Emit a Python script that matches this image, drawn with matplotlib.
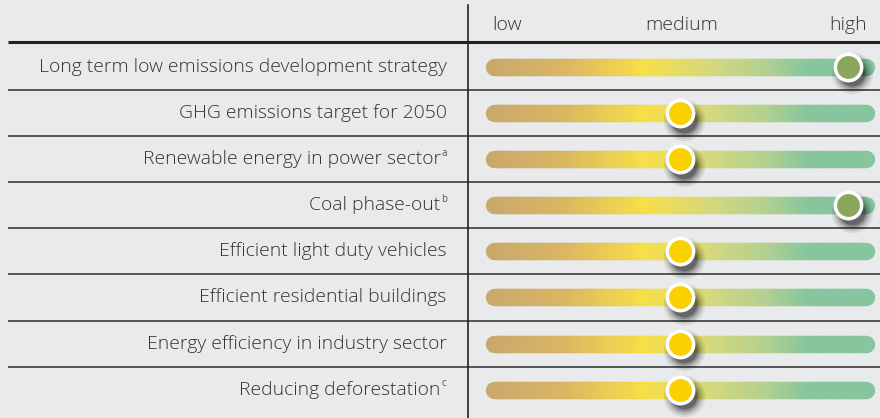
import numpy as np
import matplotlib.pyplot as plt
from matplotlib.collections import LineCollection
from matplotlib.colors import LinearSegmentedColormap

categories = ["Long term low emissions development strategy",
              "GHG emissions target for 2050",
              "Renewable energy in power sector",
              "Coal phase-out",
              "Efficient light duty vehicles",
              "Efficient residential buildings",
              "Energy efficiency in industry sector",
              "Reducing deforestation"]
notes = ["", "", "a", "b", "", "", "", "c"]
levels = [2, 1, 1, 2, 1, 1, 1, 1]          # 0 = low, 1 = medium, 2 = high
level_names = ["low", "medium", "high"]
level_colors = {1: "#F9D100", 2: "#8AA65C"}

bg = "#E9EAEC"
txt = "#333333"
grad = LinearSegmentedColormap.from_list(
    "grad", [(0.0, "#C9A86C"), (0.2, "#DAB663"), (0.42, "#F8DF48"),
             (0.6, "#D5D87E"), (0.75, "#B2D090"), (0.87, "#86C59E"), (1.0, "#86C59E")])

fig = plt.figure(figsize=(8.8, 4.18), dpi=100, facecolor=bg)
ax = fig.add_axes([0, 0, 1, 1])
ax.set_facecolor(bg)
ax.set_xlim(-3.048, 2.190)
ax.set_ylim(7.614, -1.453)
ax.axis("off")

fam = ["Open Sans", "DejaVu Sans"]
n = len(categories)
rows = np.arange(n)

# grid lines
ax.plot([-3.0, 2.2], [-0.54, -0.54], color="#222222", lw=2.2, solid_capstyle="butt")
for r in rows[:-1]:
    ax.plot([-3.0, 2.2], [r + 0.5, r + 0.5], color="#555555", lw=1.4, solid_capstyle="butt")
ax.plot([-0.262, -0.262], [-1.35, 7.7], color="#222222", lw=1.2)

# header
hx = [-0.03, 1.01, 2.0]
for i, name in enumerate(level_names):
    ax.text(hx[i], -0.9, name, ha="center", va="center",
            fontsize=14, color=txt, family=fam, fontweight="light")

bar_lo, bar_hi = -0.108, 2.108
xs = np.linspace(bar_lo, bar_hi, 200)
for r, (cat, note, lev) in enumerate(zip(categories, notes, levels)):
    ax.text(-0.39 if not note else -0.425, r, cat, ha="right", va="center",
            fontsize=13.9, color=txt, family=fam, fontweight="light")
    if note:
        ax.text(-0.42, r - 0.13, note, ha="left", va="center",
                fontsize=7, color="#555555", family=fam)
    segs = [[(xs[k], r), (xs[k + 1], r)] for k in range(len(xs) - 1)]
    cols = grad(np.linspace(0, 1, len(segs)))
    lc = LineCollection(segs, colors=cols, linewidths=12.5, capstyle="round", zorder=2)
    ax.add_collection(lc)
    # shadow
    for a, s in [(0.07, 900), (0.10, 720), (0.13, 560), (0.18, 440), (0.25, 340)]:
        ax.scatter(lev + 0.025, r + 0.14, s=s, color="black", alpha=a, lw=0, zorder=3)
    ax.scatter(lev, r, s=360, color=level_colors[lev], edgecolors="white",
               linewidths=2.5, zorder=4)

fig.savefig("out.png", dpi=100, facecolor=bg)
